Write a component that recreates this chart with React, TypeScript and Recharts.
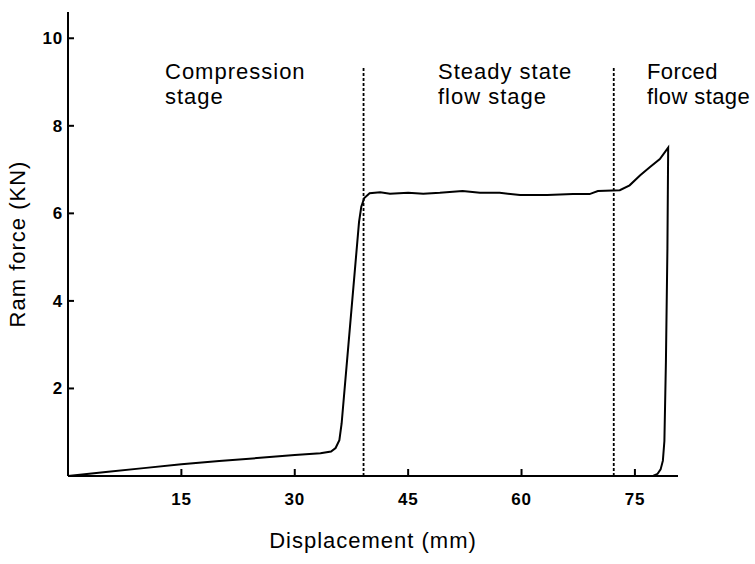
import React from 'react';
import { LineChart, Line, XAxis, YAxis, ReferenceLine } from 'recharts';

// displacement (mm) and ram force (kN), in drawing order
const displacement = [
   0, 5, 10, 15, 20, 25, 30, 33.4, 34.8, 35.4, 35.9, 36.2, 36.6, 37.1, 37.6, 38.1, 38.5, 38.8,
   39.2, 39.9, 41.3, 42.6, 45, 47.0, 49.2, 52.2, 54.5, 57.1, 59.8, 63.4, 66.8, 69.0, 70.1, 73.0,
   74.3, 75.7, 77.0, 78.3, 79.4, 79.3, 79.1, 78.9, 78.7, 78.4, 78.0, 77.4
];
const ramForce = [
   0, 0.09, 0.18, 0.27, 0.34, 0.41, 0.48, 0.52, 0.56, 0.64, 0.82, 1.2, 2.0, 3.0, 4.0, 5.0, 5.8,
   6.15, 6.35, 6.46, 6.48, 6.45, 6.47, 6.45, 6.47, 6.51, 6.47, 6.47, 6.42, 6.42, 6.44, 6.44, 6.51,
   6.53, 6.64, 6.87, 7.06, 7.24, 7.5, 5.2, 2.6, 0.8, 0.35, 0.15, 0.05, 0
];
const xTicks = [15, 30, 45, 60, 75];
const yTicks = [2, 4, 6, 8, 10];
const stageBounds = [39.1, 72.2];
const stageTop = 9.36;

const data = displacement.map((x, i) => ({ x, f: ramForce[i] }));

const FONT = '"Liberation Sans", Arial, sans-serif';

const XTick = (props: any) => {
   const { x, y, payload } = props;
   return (
      <g>
         <line x1={x} y1={y} x2={x} y2={y - 7} stroke='#000' strokeWidth={2} />
         <text x={x} y={y + 29} textAnchor='middle' fontFamily={FONT} fontWeight='bold' fontSize={17} letterSpacing={0.8} fill='#000'>
            {payload.value}
         </text>
      </g>
   );
};

const YTick = (props: any) => {
   const { x, y, payload } = props;
   return (
      <g>
         <line x1={x} y1={y} x2={x + 6} y2={y} stroke='#000' strokeWidth={2} />
         <text x={x - 5} y={y + 6} textAnchor='end' fontFamily={FONT} fontWeight='bold' fontSize={17} letterSpacing={0.8} fill='#000'>
            {payload.value}
         </text>
      </g>
   );
};

const labelStyle: React.CSSProperties = {
   position: 'absolute',
   fontFamily: FONT,
   fontSize: 22,
   letterSpacing: 1,
   lineHeight: '25px',
   color: '#000',
   whiteSpace: 'nowrap'
};

export default function App() {
   return (
      <div style={{ position: 'absolute', left: 0, top: 0, width: 755, height: 564, background: '#fff', overflow: 'hidden' }}>
         <LineChart width={755} height={564} data={data} margin={{ top: 12, right: 77, bottom: 58, left: 8 }}>
            <XAxis
               type='number'
               dataKey='x'
               domain={[0, 80.7]}
               ticks={xTicks}
               height={30}
               tickSize={0}
               tickMargin={0}
               tick={<XTick />}
               axisLine={{ stroke: '#000', strokeWidth: 2 }}
               tickLine={false}
            />
            <YAxis
               type='number'
               domain={[0, 10.6]}
               ticks={yTicks}
               width={60}
               tickSize={0}
               tickMargin={0}
               tick={<YTick />}
               axisLine={{ stroke: '#000', strokeWidth: 2 }}
               tickLine={false}
            />
            {stageBounds.map((b) => (
               <ReferenceLine
                  key={b}
                  segment={[{ x: b, y: 0 }, { x: b, y: stageTop }]}
                  stroke='#000'
                  strokeWidth={1.8}
                  strokeDasharray='3 2'
               />
            ))}
            <Line type='linear' dataKey='f' stroke='#000' strokeWidth={2} dot={false} isAnimationActive={false} />
         </LineChart>
         <div style={{ ...labelStyle, left: 165, top: 59 }}>Compression<br />stage</div>
         <div style={{ ...labelStyle, left: 438, top: 59 }}>Steady state<br />flow stage</div>
         <div style={{ ...labelStyle, left: 647, top: 59, letterSpacing: 0.4 }}>Forced<br />flow stage</div>
         <div
            style={{
               ...labelStyle,
               left: 17,
               top: 244,
               transform: 'translate(-50%, -50%) rotate(-90deg)'
            }}
         >
            Ram force (KN)
         </div>
         <div style={{ ...labelStyle, left: 373, top: 540, transform: 'translate(-50%, -50%)' }}>
            Displacement (mm)
         </div>
      </div>
   );
}
